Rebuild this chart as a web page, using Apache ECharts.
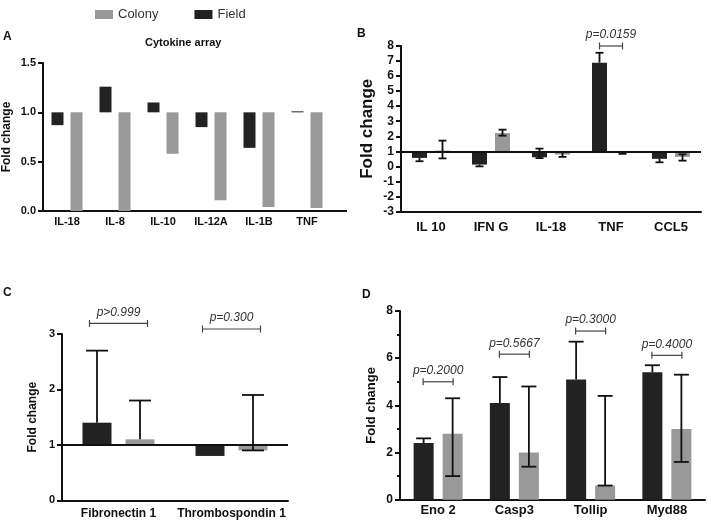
<!DOCTYPE html>
<html><head><meta charset="utf-8">
<script src="https://cdn.jsdelivr.net/npm/echarts@6/dist/echarts.min.js"></script>
<style>html,body{margin:0;padding:0;background:#fff}#c{width:708px;height:522px}</style>
</head><body><div id="c"></div>
<script>
// ---------- Panel A : Cytokine array ----------
const catA = ['IL-18','IL-8','IL-10','IL-12A','IL-1B','TNF'];
const fieldA = [0.87, 1.26, 1.10, 0.85, 0.64, 1.01];
const colonyA = [0.00, 0.00, 0.58, 0.11, 0.04, 0.03];

// ---------- Panel B ----------
const catB = ['IL 10','IFN G','IL-18','TNF','CCL5'];
const fieldB = [0.56, 0.12, 0.60, 6.89, 0.50];
const fieldBLow = [0.34, 0.00, 0.55, null, 0.27];
const fieldBHigh = [null, null, 1.18, 7.55, null];
const colonyB = [1.05, 2.22, 0.78, 0.95, 0.63];
const colonyBLow = [0.53, 2.04, 0.63, 0.83, 0.38];
const colonyBHigh = [1.71, 2.44, 0.96, null, 0.80];
const pCatB = ['TNF'];
const pLevelB = [8.0];
const pTextB = ['p=0.0159'];

// ---------- Panel C ----------
const catC = ['Fibronectin 1','Thrombospondin 1'];
const fieldC = [1.40, 0.80];
const fieldCLow = [null, null];
const fieldCHigh = [2.70, null];
const colonyC = [1.10, 0.90];
const colonyCLow = [null, 0.90];
const colonyCHigh = [1.80, 1.90];
const pCatC = ['Fibronectin 1','Thrombospondin 1'];
const pLevelC = [3.19, 3.09];
const pTextC = ['p>0.999','p=0.300'];

// ---------- Panel D ----------
const catD = ['Eno 2','Casp3','Tollip','Myd88'];
const fieldD = [2.40, 4.10, 5.10, 5.40];
const fieldDLow = [null, null, null, null];
const fieldDHigh = [2.60, 5.20, 6.70, 5.70];
const colonyD = [2.80, 2.00, 0.60, 3.00];
const colonyDLow = [1.00, 1.40, 0.60, 1.60];
const colonyDHigh = [4.30, 4.80, 4.40, 5.30];
const pCatD = ['Eno 2','Casp3','Tollip','Myd88'];
const pLevelD = [5.00, 6.17, 7.15, 6.12];
const pTextD = ['p=0.2000','p=0.5667','p=0.3000','p=0.4000'];

// ---------- styling ----------
const FONT = '"Liberation Sans", Arial, sans-serif';
const BLACK = '#222222';
const GREY = '#999999';
const AX = '#111111';

const grids = [
  {left: 40, top: 63, width: 291, height: 148},
  {left: 401, top: 46, width: 300, height: 165.5},
  {left: 62, top: 334, width: 226, height: 166.3},
  {left: 400, top: 311, width: 305, height: 188.7}
];
const barW = [12, 15, 29, 20];
const barGapPx = [7, 8, 14, 9];

function xAx(g, cats, fs, margin) {
  return {
    type: 'category', gridIndex: g, data: cats, boundaryGap: true,
    axisLine: {onZero: false, lineStyle: {color: AX, width: 2}},
    axisTick: {alignWithLabel: true, length: 5, lineStyle: {color: AX, width: 2}},
    axisLabel: {fontFamily: FONT, fontWeight: 'bold', fontSize: fs, color: AX, margin: margin, interval: 0}
  };
}
function yAx(g, min, max, interval, fs, nameFs, nameGap, dec, minor) {
  return {
    type: 'value', gridIndex: g, min: min, max: max, interval: interval,
    name: 'Fold change', nameLocation: 'middle', nameGap: nameGap,
    nameTextStyle: {fontFamily: FONT, fontWeight: 'bold', fontSize: nameFs, color: AX},
    axisLine: {show: true, onZero: false, lineStyle: {color: AX, width: 2}},
    axisTick: {show: true, length: 5, lineStyle: {color: AX, width: 2}},
    minorTick: {show: !!minor, splitNumber: 2, length: 3, lineStyle: {color: AX, width: 2}},
    splitLine: {show: false},
    axisLabel: {fontFamily: FONT, fontWeight: 'bold', fontSize: fs, color: AX, margin: 7,
      formatter: v => v.toFixed(dec)}
  };
}

// bars floating from baseline 1 (transparent stacked base + visible part)
function baselineBars(g, vals, name, color, stackId, extra) {
  const gap = (barGapPx[g] / barW[g] * 100) + '%';
  const base = {
    type: 'bar', name: '_base_' + stackId, stack: stackId, xAxisIndex: g, yAxisIndex: g,
    barWidth: barW[g], barGap: gap, silent: true,
    itemStyle: {color: 'rgba(0,0,0,0)'},
    data: vals.map(v => Math.min(v, 1))
  };
  const vis = Object.assign({
    type: 'bar', name: name, stack: stackId, xAxisIndex: g, yAxisIndex: g,
    barWidth: barW[g], barGap: gap, silent: true,
    itemStyle: {color: color},
    data: vals.map(v => Math.abs(v - 1))
  }, extra || {});
  return [base, vis];
}
function plainBars(g, vals, name, color) {
  const gap = (barGapPx[g] / barW[g] * 100) + '%';
  return {
    type: 'bar', name: name, xAxisIndex: g, yAxisIndex: g,
    barWidth: barW[g], barGap: gap, silent: true,
    itemStyle: {color: color}, data: vals
  };
}
// error whiskers; side -1 = left bar (Field), +1 = right bar (Colony)
function errors(g, vals, lows, highs, side, capW) {
  const dx = side * (barW[g] + barGapPx[g]) / 2;
  return {
    type: 'custom', xAxisIndex: g, yAxisIndex: g, silent: true, z: 6, clip: false,
    data: vals.map((v, i) => [i, v]),
    renderItem: (params, api) => {
      const i = params.dataIndex;
      const v = vals[i], lo = lows[i], hi = highs[i];
      const c = api.coord([i, v]);
      const x = c[0] + dx;
      const yTop = hi != null ? api.coord([i, hi])[1] : c[1];
      const yBot = lo != null ? api.coord([i, lo])[1] : c[1];
      const st = {stroke: AX, lineWidth: 1.8};
      const ch = [{type: 'line', shape: {x1: x, y1: yTop, x2: x, y2: yBot}, style: st}];
      if (hi != null) ch.push({type: 'line', shape: {x1: x - capW / 2, y1: yTop, x2: x + capW / 2, y2: yTop}, style: st});
      if (lo != null) ch.push({type: 'line', shape: {x1: x - capW / 2, y1: yBot, x2: x + capW / 2, y2: yBot}, style: st});
      return {type: 'group', children: ch};
    }
  };
}
// significance brackets
function brackets(g, cats, pCats, levels, texts, halfW) {
  return {
    type: 'custom', xAxisIndex: g, yAxisIndex: g, silent: true, z: 7, clip: false,
    data: pCats.map((c, k) => [cats.indexOf(c), levels[k]]),
    renderItem: (params, api) => {
      const k = params.dataIndex;
      const p = api.coord([api.value(0), api.value(1)]);
      const st = {stroke: '#444', lineWidth: 1.2};
      return {type: 'group', children: [
        {type: 'line', shape: {x1: p[0] - halfW, y1: p[1], x2: p[0] + halfW, y2: p[1]}, style: st},
        {type: 'line', shape: {x1: p[0] - halfW, y1: p[1] - 3.5, x2: p[0] - halfW, y2: p[1] + 3.5}, style: st},
        {type: 'line', shape: {x1: p[0] + halfW, y1: p[1] - 3.5, x2: p[0] + halfW, y2: p[1] + 3.5}, style: st},
        {type: 'text', style: {text: texts[k], x: p[0], y: p[1] - 11, align: 'center', verticalAlign: 'middle',
          font: 'italic 12px ' + FONT, fill: '#333'}}
      ]};
    }
  };
}
const baseLine = {
  silent: true, symbol: ['none', 'none'], label: {show: false},
  lineStyle: {color: AX, width: 2, type: 'solid'}, emphasis: {disabled: true},
  data: [{yAxis: 1}]
};

const series = [].concat(
  // A
  baselineBars(0, fieldA, 'Field', BLACK, 'fA'),
  baselineBars(0, colonyA, 'Colony', GREY, 'cA'),
  // B
  baselineBars(1, fieldB, 'Field', BLACK, 'fB', {markLine: baseLine}),
  baselineBars(1, colonyB, 'Colony', GREY, 'cB'),
  [errors(1, fieldB, fieldBLow, fieldBHigh, -1, 8),
   errors(1, colonyB, colonyBLow, colonyBHigh, 1, 8),
   brackets(1, catB, pCatB, pLevelB, pTextB, 11.5)],
  // C
  baselineBars(2, fieldC, 'Field', BLACK, 'fC', {markLine: baseLine}),
  baselineBars(2, colonyC, 'Colony', GREY, 'cC'),
  [errors(2, fieldC, fieldCLow, fieldCHigh, -1, 22),
   errors(2, colonyC, colonyCLow, colonyCHigh, 1, 22),
   brackets(2, catC, pCatC, pLevelC, pTextC, 29)],
  // D
  [plainBars(3, fieldD, 'Field', BLACK),
   plainBars(3, colonyD, 'Colony', GREY),
   errors(3, fieldD, fieldDLow, fieldDHigh, -1, 15),
   errors(3, colonyD, colonyDLow, colonyDHigh, 1, 15),
   brackets(3, catD, pCatD, pLevelD, pTextD, 15)]
);

const letter = (t, l, tp) => ({text: t, left: l, top: tp, padding: 0,
  textStyle: {fontFamily: FONT, fontWeight: 'bold', fontSize: 12, color: AX}});

// panel A's x-axis line runs a little past the last category band
const gA = grids[0];
const axisExtA = {
  type: 'line', silent: true, z: 10,
  shape: {x1: gA.left + gA.width - 1, y1: gA.top + gA.height, x2: gA.left + gA.width + 16, y2: gA.top + gA.height},
  style: {stroke: AX, lineWidth: 2}
};

const option = {
  animation: false,
  backgroundColor: '#fff',
  textStyle: {fontFamily: FONT},
  title: [
    {text: 'Cytokine array', left: 145, top: 37, padding: 0,
     textStyle: {fontFamily: FONT, fontWeight: 'bold', fontSize: 11, color: AX}},
    letter('A', 3, 31), letter('B', 357, 28), letter('C', 3, 287), letter('D', 362, 289)
  ],
  legend: {
    data: ['Colony', 'Field'], left: 90, top: 3, icon: 'rect',
    itemWidth: 18, itemHeight: 9, itemGap: 36, selectedMode: false,
    textStyle: {fontFamily: FONT, fontSize: 13, color: '#333'}
  },
  graphic: [axisExtA],
  grid: grids,
  xAxis: [xAx(0, catA, 11, 5), xAx(1, catB, 13, 9), xAx(2, catC, 12, 7), xAx(3, catD, 13, 4)],
  yAxis: [
    yAx(0, 0, 1.5, 0.5, 11, 12, 30, 1, false),
    yAx(1, -3, 8, 1, 12, 17, 25, 0, false),
    yAx(2, 0, 3, 1, 11, 12, 23, 0, false),
    yAx(3, 0, 8, 2, 12, 13, 22, 0, true)
  ],
  series: series
};
const chart = echarts.init(document.getElementById('c'), null, {renderer: 'canvas'});
chart.setOption(option);
</script>
</body></html>
